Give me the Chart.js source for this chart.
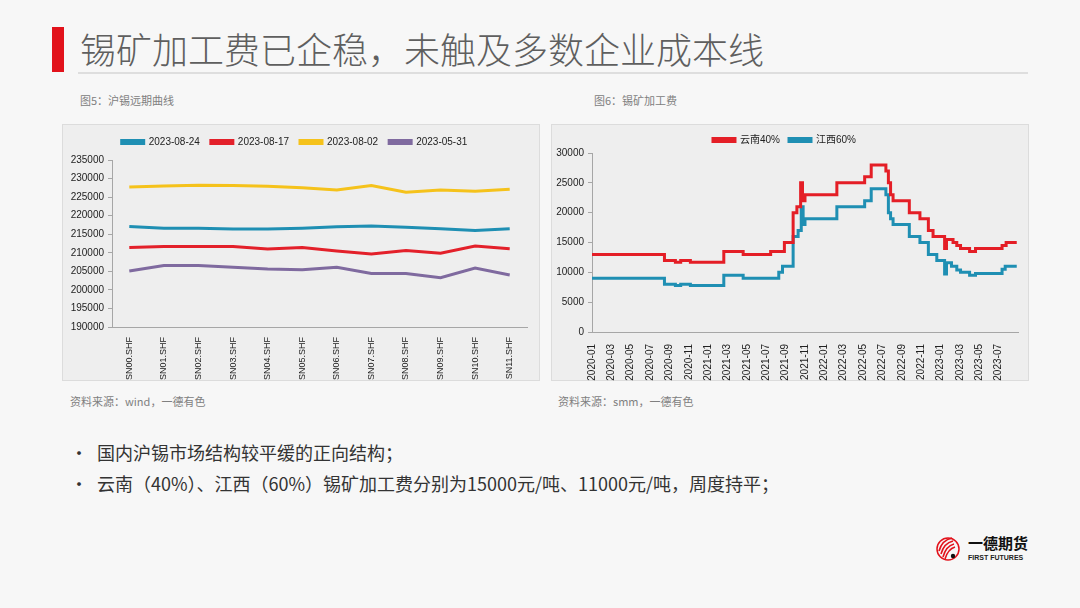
<!DOCTYPE html>
<html>
<head>
<meta charset="utf-8">
<script src="https://cdn.jsdelivr.net/npm/chart.js@4.4.0/dist/chart.umd.min.js"></script>
<style>
body { margin:0; width:1080px; height:608px; background:#f7f7f7; position:relative; overflow:hidden;
       font-family:"Noto Sans CJK SC", sans-serif; }
.abs { position:absolute; white-space:nowrap; }
.bar { left:52px; top:27px; width:12px; height:45px; background:#e2121b; }
.title { left:80px; top:25px; font-size:36px; line-height:46px; color:#5f5f5f; font-weight:300; }
.rule { left:78px; top:72px; width:950px; height:2px; background:#dedede; }
.cap { font-size:11px; color:#808080; line-height:14px; }
.panel { top:124px; width:476px; height:255px; background:#eeeeee; border:1px solid #dcdcdc; }
.bullet { left:70px; font-size:18px; color:#333; line-height:24px; }
.bullet span { display:inline-block; width:27px; }
.logo-cn { left:968px; top:534px; font-size:15px; font-weight:bold; color:#111; line-height:18px; }
.logo-en { left:968px; top:554px; font-size:7px; font-weight:bold; color:#222; line-height:8px; font-family:"Liberation Sans", sans-serif; }
</style>
</head>
<body>
<div class="abs bar"></div>
<div class="abs title">锡矿加工费已企稳，未触及多数企业成本线</div>
<div class="abs rule"></div>
<div class="abs cap" style="left:80px;top:93px;">图5：沪锡远期曲线</div>
<div class="abs cap" style="left:594px;top:93px;">图6：锡矿加工费</div>

<div class="abs panel" style="left:62px;"></div>
<div class="abs panel" style="left:551px;"></div>
<canvas id="curve" class="abs" style="left:62px;top:124px;" width="478" height="257"></canvas>
<canvas id="fee" class="abs" style="left:551px;top:124px;" width="478" height="257"></canvas>

<div class="abs cap" style="left:70px;top:394px;">资料来源：wind，一德有色</div>
<div class="abs cap" style="left:558px;top:394px;">资料来源：smm，一德有色</div>

<div class="abs bullet" style="top:440px;"><span>•</span>国内沪锡市场结构较平缓的正向结构；</div>
<div class="abs bullet" style="top:471px;"><span>•</span>云南（40%）、江西（60%）锡矿加工费分别为15000元/吨、11000元/吨，周度持平；</div>

<svg class="abs" style="left:936px;top:535px;" width="26" height="28" viewBox="0 0 26 28">
  <circle cx="12" cy="14" r="11" fill="none" stroke="#e2121b" stroke-width="1.5"/>
  <path d="M3 16 Q6 5 16 3 M5 19 Q8 8 17 6 M7 22 Q10 11 18 9 M9 24 Q12 14 19 12" stroke="#e2121b" stroke-width="1.6" fill="none"/>
  <circle cx="17" cy="21" r="2.2" fill="#111"/>
</svg>
<div class="abs logo-cn">一德期货</div>
<div class="abs logo-en">FIRST FUTURES</div>

<script>
// 图5 沪锡远期曲线
const contracts = ['SN00.SHF', 'SN01.SHF', 'SN02.SHF', 'SN03.SHF', 'SN04.SHF', 'SN05.SHF',
                   'SN06.SHF', 'SN07.SHF', 'SN08.SHF', 'SN09.SHF', 'SN10.SHF', 'SN11.SHF'];
const curve0824 = [217100, 216600, 216600, 216400, 216400, 216600, 217000, 217200, 216900, 216500, 216000, 216500];
const curve0817 = [211400, 211700, 211700, 211700, 211000, 211400, 210500, 209700, 210600, 209900, 211800, 211100];
const curve0802 = [227700, 228000, 228200, 228150, 227900, 227500, 226900, 228150, 226300, 226900, 226600, 227150];
const curve0531 = [205100, 206600, 206600, 206100, 205600, 205400, 206100, 204400, 204400, 203300, 205900, 204000];

// 图6 锡矿加工费 (each date = the day the fee changed to the value)
const ynDates = ['2020-01-01', '2020-08-16', '2020-09-20', '2020-10-06', '2020-11-06', '2021-02-20', '2021-04-20',
                 '2021-07-15', '2021-08-28', '2021-09-25', '2021-10-06', '2021-10-18', '2021-10-24', '2021-11-01',
                 '2022-02-10', '2022-05-06', '2022-05-27', '2022-07-12', '2022-07-20', '2022-07-27', '2022-08-04',
                 '2022-09-25', '2022-10-28', '2022-11-24', '2022-12-08', '2023-01-14', '2023-01-20', '2023-02-10',
                 '2023-02-22', '2023-03-03', '2023-04-01', '2023-04-20', '2023-07-12', '2023-07-25', '2023-08-28'];
const ynFee = [13000, 12000, 11700, 12000, 11700, 13500, 13000,
               13500, 15000, 20000, 21000, 25000, 22000, 23000,
               25000, 26000, 28000, 27000, 25000, 23000, 22000,
               20000, 19000, 17000, 16000, 14000, 15500, 15000,
               14500, 14000, 13500, 14000, 14500, 15000, 15000];
const jxDates = ['2020-01-01', '2020-08-16', '2020-09-20', '2020-10-06', '2020-11-06', '2021-02-20', '2021-04-20',
                 '2021-08-10', '2021-08-22', '2021-09-25', '2021-10-10', '2021-10-20', '2021-10-26', '2021-11-01',
                 '2022-02-10', '2022-05-06', '2022-05-27', '2022-07-12', '2022-07-20', '2022-07-27', '2022-08-04',
                 '2022-09-25', '2022-10-28', '2022-11-24', '2022-12-20', '2023-01-14', '2023-01-20', '2023-02-05',
                 '2023-02-22', '2023-03-03', '2023-04-01', '2023-04-20', '2023-07-12', '2023-07-22', '2023-08-28'];
const jxFee = [9000, 8000, 7800, 8000, 7800, 9500, 9000,
               10000, 11000, 16000, 17000, 21000, 18000, 19000,
               21000, 22000, 24000, 23000, 20000, 19000, 18000,
               16000, 15000, 13000, 12000, 9700, 11600, 11000,
               10400, 10000, 9500, 9800, 10500, 11000, 11000];

// months since 2020-01, so a linear axis can be used without a date adapter
function monthIndex(s) {
    const p = s.split('-').map(Number);
    return (p[0] - 2020) * 12 + (p[1] - 1) + (p[2] - 1) / 31;
}
function monthLabel(v) {
    const m = v % 12 + 1;
    return (2020 + Math.floor(v / 12)) + '-' + (m < 10 ? '0' + m : m);
}
function toPoints(dates, vals) {
    return dates.map((d, i) => ({ x: monthIndex(d), y: vals[i] }));
}

// extra room between legend and plot
function legendGap(extra) {
    return {
        id: 'legendGap',
        beforeInit(chart) {
            const fit = chart.legend.fit;
            chart.legend.fit = function () { fit.call(this); this.height += extra; };
        }
    };
}

Chart.defaults.font.family = '"Liberation Sans", "Noto Sans CJK SC", sans-serif';
Chart.defaults.color = '#222';
const axisGrey = '#a6a6a6';

new Chart(document.getElementById('curve'), {
    type: 'line',
    data: {
        labels: contracts,
        datasets: [
            { label: '2023-08-24', data: curve0824, borderColor: '#1f8fb3', backgroundColor: '#1f8fb3' },
            { label: '2023-08-17', data: curve0817, borderColor: '#e3202a', backgroundColor: '#e3202a' },
            { label: '2023-08-02', data: curve0802, borderColor: '#f5c21b', backgroundColor: '#f5c21b' },
            { label: '2023-05-31', data: curve0531, borderColor: '#7f6a9f', backgroundColor: '#7f6a9f' }
        ]
    },
    options: {
        responsive: false,
        animation: false,
        layout: { padding: { top: 2, right: 13, bottom: 0, left: 0 } },
        elements: { line: { borderWidth: 3, tension: 0 }, point: { radius: 0 } },
        plugins: {
            legend: { labels: { boxWidth: 22, boxHeight: 3, padding: 11, font: { size: 10 } } },
            tooltip: { enabled: false }
        },
        scales: {
            x: {
                offset: true,
                grid: { display: false },
                border: { color: axisGrey },
                ticks: { minRotation: 90, maxRotation: 90, autoSkip: false, font: { size: 9 }, padding: 2 },
                afterFit(s) { s.height = 54; }
            },
            y: {
                min: 190000, max: 235000,
                ticks: { stepSize: 5000, font: { size: 10 }, padding: 4, callback: v => String(v) },
                grid: { drawOnChartArea: false, tickLength: 4, color: axisGrey },
                border: { color: axisGrey },
                afterFit(s) { s.width = 50; }
            }
        }
    },
    plugins: [legendGap(3)]
});

new Chart(document.getElementById('fee'), {
    type: 'line',
    data: {
        datasets: [
            { label: '云南40%', data: toPoints(ynDates, ynFee), borderColor: '#e41e26', backgroundColor: '#e41e26' },
            { label: '江西60%', data: toPoints(jxDates, jxFee), borderColor: '#1f8fb3', backgroundColor: '#1f8fb3' }
        ]
    },
    options: {
        responsive: false,
        animation: false,
        layout: { padding: { top: 2, right: 11, bottom: 0, left: 0 } },
        elements: { line: { borderWidth: 3, stepped: true }, point: { radius: 0 } },
        plugins: {
            legend: { labels: { boxWidth: 22, boxHeight: 3, padding: 9, font: { size: 10 } } },
            tooltip: { enabled: false }
        },
        scales: {
            x: {
                type: 'linear',
                min: 0, max: 44,
                grid: { display: false },
                border: { color: axisGrey },
                ticks: {
                    stepSize: 2, autoSkip: false, minRotation: 90, maxRotation: 90, font: { size: 10 }, padding: 4,
                    callback: v => (v % 2 === 0 && v <= 42) ? monthLabel(v) : null
                },
                afterFit(s) { s.height = 49; }
            },
            y: {
                min: 0, max: 30000,
                ticks: { stepSize: 5000, font: { size: 10 }, padding: 4, callback: v => String(v) },
                grid: { drawOnChartArea: false, tickLength: 4, color: axisGrey },
                border: { color: axisGrey },
                afterFit(s) { s.width = 41; }
            }
        }
    },
    plugins: [legendGap(-2)]
});
</script>
</body>
</html>
